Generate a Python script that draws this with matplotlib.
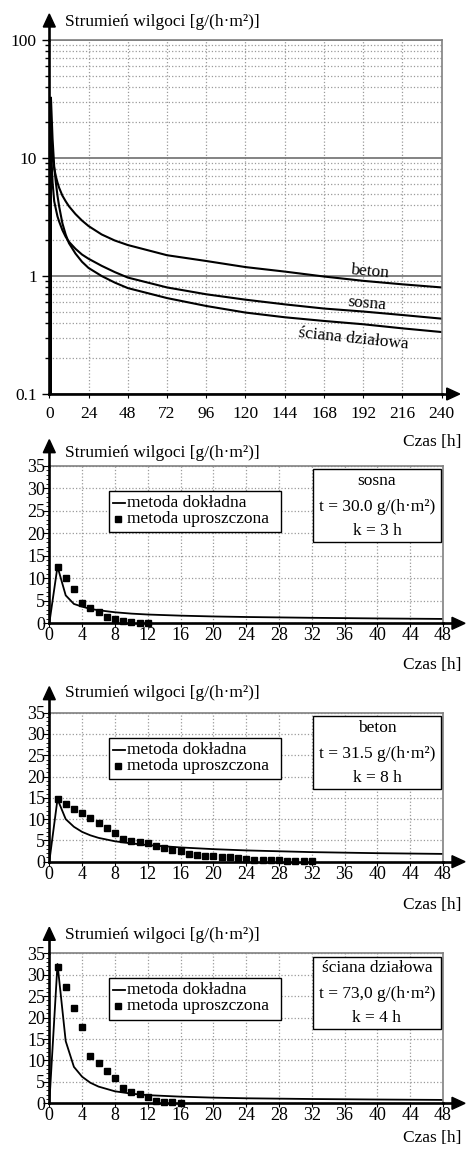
import matplotlib.pyplot as plt
from matplotlib.lines import Line2D
from matplotlib.patches import Polygon, Rectangle
from matplotlib.ticker import FixedLocator, FixedFormatter, MultipleLocator, NullFormatter

plt.rcParams['font.family'] = ['Liberation Serif', 'DejaVu Serif']

W, H = 470, 1149  # figure size in px

# czas [h] i strumień wilgoci [g/(h*m2)] - metoda dokładna
hours = [0, 1, 2, 3, 4, 5, 6, 8, 10, 12, 16, 20, 24, 32, 40, 48,
         72, 96, 120, 144, 168, 192, 216, 240]
beton = [0, 14.7, 10.0, 8.2, 7.0, 6.2, 5.6, 4.8, 4.3, 3.9, 3.35, 2.95, 2.65, 2.25, 2.0, 1.83,
         1.5, 1.34, 1.19, 1.09, 0.99, 0.91, 0.85, 0.80]
sosna = [0, 12.6, 6.2, 4.3, 3.7, 3.2, 2.9, 2.45, 2.15, 1.95, 1.7, 1.52, 1.4, 1.22, 1.08, 0.97,
         0.80, 0.70, 0.63, 0.575, 0.53, 0.50, 0.467, 0.435]
sciana = [0, 32.5, 14.5, 8.5, 6.2, 4.8, 3.9, 2.8, 2.25, 1.9, 1.55, 1.32, 1.17, 1.0, 0.88, 0.79,
          0.65, 0.557, 0.49, 0.447, 0.416, 0.39, 0.36, 0.335]

# metoda uproszczona, co godzinę od 1 h
upr_sosna = [12.5, 10.1, 7.6, 4.4, 3.4, 2.5, 1.4, 0.9, 0.6, 0.3, 0.15, 0.1]
upr_beton = [14.8, 13.6, 12.4, 11.4, 10.2, 9.1, 8.0, 6.8, 5.3, 4.9, 4.6, 4.3, 3.75, 3.3,
             2.8, 2.4, 1.8, 1.65, 1.4, 1.25, 1.2, 1.0, 0.87, 0.63, 0.47, 0.47, 0.4, 0.3,
             0.24, 0.2, 0.16, 0.08]
upr_sciana = [31.9, 27.2, 22.3, 17.7, 11.1, 9.5, 7.6, 5.8, 3.5, 2.7, 2.2, 1.55, 0.6,
              0.4, 0.3, 0.1]

log_ticks = [0.1, 1, 10, 100]
log_labels = ['0.1', '1', '10', '100']
ylabel = 'Strumień wilgoci [g/(h·m²)]'
xlabel = 'Czas [h]'

GRID = '#9a9a9a'
fig = plt.figure(figsize=(W / 100, H / 100), dpi=100)


def fx(x):
    return x / W


def fy(y):
    return 1 - y / H


def axis_arrows(ax, up_px, right_px):
    b = ax.get_position()
    tip_y = b.y1 + up_px / H
    tip_x = b.x1 + right_px / W
    fig.add_artist(Line2D([b.x0, b.x0], [b.y1, tip_y - 8 / H], color='black', lw=1.9,
                          transform=fig.transFigure))
    fig.add_artist(Polygon([[b.x0, tip_y], [b.x0 - 6 / W, tip_y - 13 / H],
                            [b.x0 + 6 / W, tip_y - 13 / H]], closed=True, color='black',
                           transform=fig.transFigure))
    fig.add_artist(Line2D([b.x1, tip_x - 8 / W], [b.y0, b.y0], color='black', lw=1.9,
                          transform=fig.transFigure))
    fig.add_artist(Polygon([[tip_x, b.y0], [tip_x - 13 / W, b.y0 - 6 / H],
                            [tip_x - 13 / W, b.y0 + 6 / H]], closed=True, color='black',
                           transform=fig.transFigure))


def frame(ax):
    for s in ('left', 'bottom'):
        ax.spines[s].set_color('black')
        ax.spines[s].set_linewidth(1.9)
    for s in ('top', 'right'):
        ax.spines[s].set_color('#808080')
        ax.spines[s].set_linewidth(1.2)
    ax.set_axisbelow(True)


# --- wykres logarytmiczny ---
ax = fig.add_axes([fx(49.3), fy(394), (441.7 - 49.3) / W, (394 - 40) / H])
ax.set_yscale('log')
for vals in (beton, sosna, sciana):
    ax.plot(hours, vals, color='black', lw=1.5)
ax.set_xlim(0, 240)
ax.set_ylim(0.1, 100)
ax.xaxis.set_major_locator(MultipleLocator(24))
ax.yaxis.set_major_locator(FixedLocator(log_ticks))
ax.yaxis.set_major_formatter(FixedFormatter(log_labels))
ax.yaxis.set_minor_locator(FixedLocator([m * d for d in (0.1, 1, 10) for m in range(2, 10)]))
ax.yaxis.set_minor_formatter(NullFormatter())
ax.grid(axis='x', which='major', ls=':', color=GRID, lw=0.9)
ax.grid(axis='y', which='minor', ls=':', color=GRID, lw=0.9)
ax.grid(axis='y', which='major', ls='-', color='#7a7a7a', lw=1.3)
ax.tick_params(axis='x', length=3, pad=6, labelsize=12.5)
ax.tick_params(axis='y', which='major', length=5, width=1, pad=4, labelsize=12.5)
ax.tick_params(axis='y', which='minor', length=3, width=1)
frame(ax)
ax.text(196, 1.08, 'beton', ha='center', va='center', rotation=-5, fontsize=12.5)
ax.text(194, 0.587, 'sosna', ha='center', va='center', rotation=-5, fontsize=12.5)
ax.text(186, 0.292, 'ściana działowa', ha='center', va='center', rotation=-6, fontsize=12.5)
axis_arrows(ax, 26, 18)
fig.text(fx(65), fy(22), ylabel, ha='left', va='center', fontsize=12.5)
fig.text(fx(461), fy(442), xlabel, ha='right', va='center', fontsize=12.5)

# --- wykresy liniowe ---
panels = [
    (465.7, 623.3, 453.3, 665, sosna, upr_sosna, 'sosna', 't = 30.0 g/(h·m²)', 'k = 3 h'),
    (712.7, 861.7, 693.3, 905, beton, upr_beton, 'beton', 't = 31.5 g/(h·m²)', 'k = 8 h'),
    (953.3, 1103.3, 935, 1138, sciana, upr_sciana, 'ściana działowa',
     't = 73,0 g/(h·m²)', 'k = 4 h'),
]

for top, bottom, ylab_y, xlab_y, vals, upr, name, t_txt, k_txt in panels:
    ax = fig.add_axes([fx(49.3), fy(bottom), (443 - 49.3) / W, (bottom - top) / H])
    h48 = [h for h in hours if h <= 48]
    ax.plot(h48, vals[:len(h48)], color='black', lw=1.3)
    ax.plot(range(1, len(upr) + 1), upr, ls='none', marker='s', ms=3.8, color='black',
            clip_on=False, zorder=3)
    ax.set_xlim(0, 48)
    ax.set_ylim(0, 35)
    ax.xaxis.set_major_locator(MultipleLocator(4))
    ax.yaxis.set_major_locator(MultipleLocator(5))
    ax.yaxis.set_minor_locator(MultipleLocator(1))
    ax.grid(which='major', ls=':', color=GRID, lw=0.9)
    ax.tick_params(axis='x', length=3, pad=0, labelsize=13)
    ax.tick_params(axis='y', which='major', length=4, pad=-1, labelsize=13)
    ax.tick_params(axis='y', which='minor', length=2)
    frame(ax)
    axis_arrows(ax, 26, 22)
    fig.text(fx(65), fy(ylab_y), ylabel, ha='left', va='center', fontsize=12.5)
    fig.text(fx(461), fy(xlab_y), xlabel, ha='right', va='center', fontsize=12.5)

    # legenda
    fig.add_artist(Rectangle((fx(109), fy(top + 66.5)), 172 / W, 41.5 / H, fc='white',
                             ec='black', lw=1, transform=fig.transFigure))
    fig.add_artist(Line2D([fx(113), fx(125)], [fy(top + 37), fy(top + 37)], color='black',
                          lw=1.3, transform=fig.transFigure))
    fig.add_artist(Line2D([fx(118)], [fy(top + 53)], ls='none', marker='s', ms=3.8,
                          color='black', transform=fig.transFigure))
    fig.text(fx(127), fy(top + 37), 'metoda dokładna', va='center', fontsize=12.5)
    fig.text(fx(127), fy(top + 53), 'metoda uproszczona', va='center', fontsize=12.5)

    # ramka z parametrami
    fig.add_artist(Rectangle((fx(313), fy(top + 76)), 128 / W, 72.5 / H, fc='white',
                             ec='black', lw=1, transform=fig.transFigure))
    for dy, txt in ((15, name), (41, t_txt), (65, k_txt)):
        fig.text(fx(377), fy(top + dy), txt, ha='center', va='center', fontsize=12.5)

fig.savefig('out.png', dpi=100)
